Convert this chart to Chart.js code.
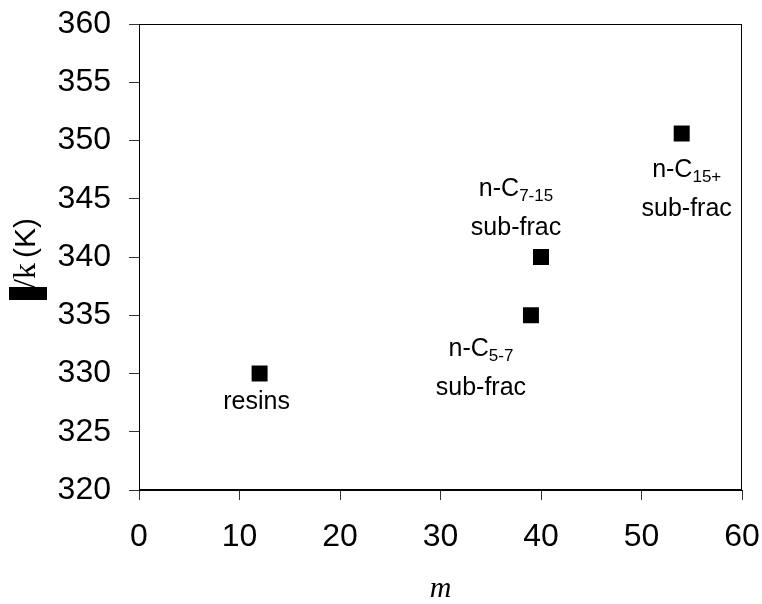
<!DOCTYPE html>
<html>
<head>
<meta charset="utf-8">
<script src="https://cdn.jsdelivr.net/npm/chart.js@4.4.0/dist/chart.umd.min.js"></script>
<style>
  html, body { margin: 0; padding: 0; background: #fff; }
  canvas { display: block; }
</style>
</head>
<body>
<canvas id="chart" width="762" height="604"></canvas>
<script>
'use strict';

// data
const categories = ['resins', 'n-C5-7', 'n-C7-15', 'n-C15+'];
const mValues = [12, 39, 40, 54];
const epsValues = [330, 335, 340, 350.6];
const xTicks = [0, 10, 20, 30, 40, 50, 60];
const yTicks = [320, 325, 330, 335, 340, 345, 350, 355, 360];

// label text per point: base, subscript, second line
const labelBase = ['resins', 'n-C', 'n-C', 'n-C'];
const labelSub = ['', '5-7', '7-15', '15+'];
const labelSecond = ['', 'sub-frac', 'sub-frac', 'sub-frac'];

const SANS = '"Liberation Sans", Arial, sans-serif';
const SERIF = '"Liberation Serif", "Times New Roman", serif';

// pixel offsets of each label from its point (first line centre)
const labelOffsets = [[-3, 26], [-50, 32], [-25, -70], [5, 34]];
const lineGap = 39;

const frame = {
    id: 'frame',
    afterDraw(chart) {
        const { ctx, chartArea: a } = chart;
        ctx.save();
        ctx.strokeStyle = '#000';
        ctx.lineWidth = 1;
        ctx.strokeRect(Math.round(a.left) + 0.5, Math.round(a.top) + 0.5,
            Math.round(a.right - a.left) - 1, Math.round(a.bottom - a.top) - 1);
        ctx.restore();
    }
};

const pointLabels = {
    id: 'pointLabels',
    afterDatasetsDraw(chart) {
        const { ctx } = chart;
        const xs = chart.scales.x, ys = chart.scales.y;
        ctx.save();
        ctx.fillStyle = '#000';
        ctx.textBaseline = 'alphabetic';
        categories.forEach((c, i) => {
            const px = xs.getPixelForValue(mValues[i]) + labelOffsets[i][0];
            const py = ys.getPixelForValue(epsValues[i]) + labelOffsets[i][1];
            const base = py + 9;
            ctx.font = '25px ' + SANS;
            const w1 = ctx.measureText(labelBase[i]).width;
            ctx.font = '17px ' + SANS;
            const w2 = labelSub[i] ? ctx.measureText(labelSub[i]).width : 0;
            let x0 = px - (w1 + w2) / 2;
            ctx.textAlign = 'left';
            ctx.font = '25px ' + SANS;
            ctx.fillText(labelBase[i], x0, base);
            if (labelSub[i]) {
                ctx.font = '17px ' + SANS;
                ctx.fillText(labelSub[i], x0 + w1, base + 5);
            }
            if (labelSecond[i]) {
                ctx.font = '25px ' + SANS;
                ctx.textAlign = 'center';
                ctx.fillText(labelSecond[i], px, base + lineGap);
            }
        });
        ctx.restore();
    }
};

const axisTitles = {
    id: 'axisTitles',
    afterDraw(chart) {
        const { ctx, chartArea: a } = chart;
        ctx.save();
        ctx.fillStyle = '#000';
        // x title
        ctx.font = 'italic 30px ' + SERIF;
        ctx.textAlign = 'center';
        ctx.textBaseline = 'alphabetic';
        ctx.fillText('m', (a.left + a.right) / 2, 597);
        // y title, rotated: missing-glyph box, "/k" in serif, "(K)" in sans
        ctx.translate(28, (a.top + a.bottom) / 2);
        ctx.rotate(-Math.PI / 2);
        ctx.fillRect(-43, -19, 13, 38);
        ctx.textAlign = 'left';
        ctx.font = '32px ' + SERIF;
        ctx.fillText('/k', -31, 7);
        ctx.font = '30px ' + SANS;
        ctx.fillText('(K)', -1, 7);
        ctx.restore();
    }
};

const noScalePadding = s => {
    s.paddingTop = 0; s.paddingBottom = 0; s.paddingLeft = 0; s.paddingRight = 0;
};

new Chart(document.getElementById('chart'), {
    type: 'scatter',
    data: {
        labels: categories,
        datasets: [{
            data: mValues.map((m, i) => ({ x: m, y: epsValues[i] })),
            pointStyle: 'rect',
            pointRadius: 11.3,
            pointHoverRadius: 11.3,
            borderWidth: 0,
            backgroundColor: '#000',
            borderColor: '#000'
        }]
    },
    options: {
        responsive: false,
        animation: false,
        devicePixelRatio: 1,
        layout: { autoPadding: false, padding: { left: 0, top: 24, right: 20, bottom: 0 } },
        plugins: { legend: { display: false }, tooltip: { enabled: false } },
        scales: {
            x: {
                type: 'linear', min: 0, max: 60,
                afterBuildTicks: s => { s.ticks = xTicks.map(v => ({ value: v })); },
                afterFit: s => { s.height = 114; noScalePadding(s); },
                ticks: { color: '#000', font: { family: SANS, size: 32 }, padding: 18 },
                grid: { drawOnChartArea: false, drawTicks: true, tickLength: 10, color: '#333' },
                border: { color: '#000', width: 1 }
            },
            y: {
                type: 'linear', min: 320, max: 360,
                afterBuildTicks: s => { s.ticks = yTicks.map(v => ({ value: v })); },
                afterFit: s => { s.width = 139; noScalePadding(s); },
                ticks: { color: '#000', font: { family: SANS, size: 32 }, padding: 18 },
                grid: { drawOnChartArea: false, drawTicks: true, tickLength: 10, color: '#333' },
                border: { color: '#000', width: 1 }
            }
        }
    },
    plugins: [frame, pointLabels, axisTitles]
});
</script>
</body>
</html>
